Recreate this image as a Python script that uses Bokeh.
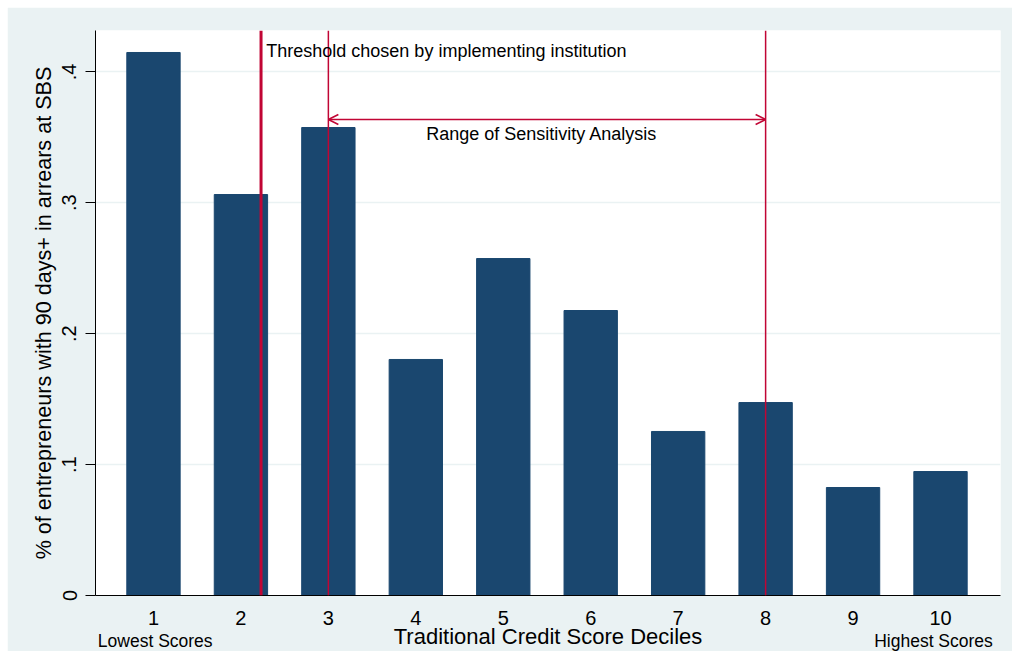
from bokeh.plotting import figure
from bokeh.models import Range1d, FixedTicker, Span, Arrow, OpenHead, Label, LinearAxis, Spacer
from bokeh.layouts import column, row
from bokeh.embed import file_html
from bokeh.resources import INLINE

# ---- data ----
deciles = [1, 2, 3, 4, 5, 6, 7, 8, 9, 10]
decile_labels = ["1", "2", "3", "4", "5", "6", "7", "8", "9", "10"]
arrears_share = [0.4148, 0.3063, 0.3575, 0.1803, 0.2574, 0.2177, 0.1253, 0.1474, 0.0825, 0.0947]
y_ticks = [0, 0.1, 0.2, 0.3, 0.4]
y_tick_labels = ["0", ".1", ".2", ".3", ".4"]
threshold_x = [2.23]
sensitivity_range = [3, 8]
note_ticks = [1.02, 9.92]
note_labels = ["Lowest Scores", "Highest Scores"]

FONT = "Liberation Sans"
BG = "#eaf2f3"
BAR = "#1a476f"
RED = "#c10534"

p = figure(width=1005, height=644,
           x_range=Range1d(0.337, 10.686), y_range=Range1d(0, 0.4316),
           output_backend="svg", toolbar_location=None,
           min_border_left=88, min_border_right=12,
           min_border_top=23, min_border_bottom=56,
           background_fill_color="white", border_fill_color=BG,
           outline_line_color=None)

p.vbar(x=deciles, top=arrears_share, width=0.61,
       fill_color=BAR, line_color=BAR)

# grid
p.xgrid.visible = False
p.ygrid.ticker = FixedTicker(ticks=y_ticks[1:])
p.ygrid.grid_line_color = BG
p.ygrid.grid_line_width = 1.5

# x axis (decile numbers)
xa = p.xaxis[0]
xa.ticker = FixedTicker(ticks=deciles)
xa.major_label_overrides = {d: l for d, l in zip(deciles, decile_labels)}
xa.major_tick_out = 0
xa.major_tick_in = 0
xa.minor_tick_out = 0
xa.minor_tick_in = 0
xa.major_label_standoff = 15
xa.major_label_text_font = FONT
xa.major_label_text_font_size = "20px"
xa.major_label_text_color = "black"
xa.axis_line_color = "black"

# second row under the axis: notes + axis title on the same line
na = LinearAxis(ticker=FixedTicker(ticks=note_ticks),
                major_label_overrides={t: l for t, l in zip(note_ticks, note_labels)},
                axis_line_color=None, major_tick_line_color=None, minor_tick_line_color=None,
                major_tick_out=0, major_tick_in=0, minor_tick_out=0, minor_tick_in=0,
                major_label_standoff=3,
                major_label_text_font=FONT, major_label_text_font_size="17.5px",
                major_label_text_color="black",
                axis_label="Traditional Credit Score Deciles",
                axis_label_text_font=FONT, axis_label_text_font_size="22px",
                axis_label_text_font_style="normal", axis_label_text_color="black",
                axis_label_standoff=-30)
p.add_layout(na, "below")

# y axis
ya = p.yaxis[0]
ya.ticker = FixedTicker(ticks=y_ticks)
ya.major_label_overrides = {t: l for t, l in zip(y_ticks, y_tick_labels)}
ya.major_label_orientation = "vertical"
ya.major_tick_out = 10
ya.major_tick_in = 0
ya.minor_tick_out = 0
ya.minor_tick_in = 0
ya.major_tick_line_color = "black"
ya.major_label_standoff = 9
ya.major_label_text_font = FONT
ya.major_label_text_font_size = "20px"
ya.major_label_text_color = "black"
ya.axis_label = "% of entrepreneurs with 90 days+ in arrears at SBS"
ya.axis_label_text_font = FONT
ya.axis_label_text_font_size = "21.6px"
ya.axis_label_text_font_style = "normal"
ya.axis_label_text_color = "black"
ya.axis_label_standoff = 4
ya.axis_line_color = "black"

# reference lines
p.add_layout(Span(location=threshold_x[0], dimension="height",
                  line_color=RED, line_width=3))
for loc in sensitivity_range:
    p.add_layout(Span(location=loc, dimension="height",
                      line_color=RED, line_width=1.5))

p.add_layout(Arrow(start=OpenHead(size=10, line_color=RED, line_width=1.5),
                   end=OpenHead(size=10, line_color=RED, line_width=1.5),
                   x_start=sensitivity_range[0], x_end=sensitivity_range[1],
                   y_start=0.3636, y_end=0.3636,
                   line_color=RED, line_width=1.5))

p.add_layout(Label(x=2.29, y=0.4156, text="Threshold chosen by implementing institution",
                   text_font=FONT, text_font_size="18px", text_color="black",
                   text_align="left", text_baseline="middle"))
p.add_layout(Label(x=5.44, y=0.3529, text="Range of Sensitivity Analysis",
                   text_font=FONT, text_font_size="18px", text_color="black",
                   text_align="center", text_baseline="middle"))

page = column(Spacer(height=7), row(Spacer(width=7), p))

open("out.html", "w").write(file_html(page, INLINE))
